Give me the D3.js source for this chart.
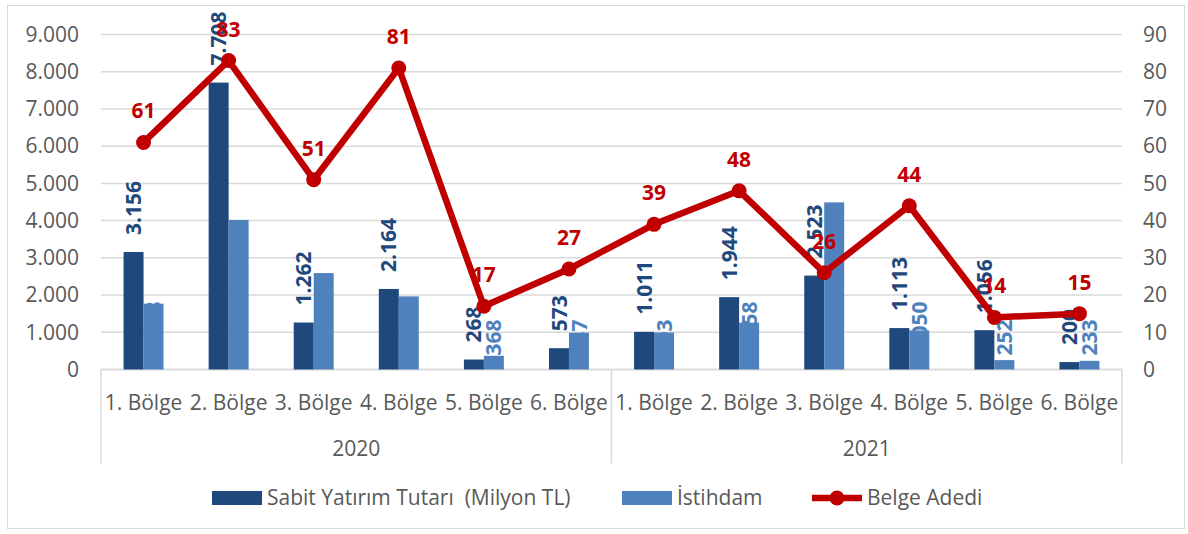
<!DOCTYPE html>
<html>
<head>
  <meta charset="utf-8">
  <title>Bölgelere göre teşvik belgeleri</title>
  <script src="https://d3js.org/d3.v7.min.js"></script>
  <style>
    body { margin: 0; background: #fff; }
    text { font-family: "Open Sans", sans-serif; white-space: pre; }
  </style>
</head>
<body>
  <div id="chart"></div>

  <script>
    const years = ["2020", "2021"];
    const regions = ["1. Bölge", "2. Bölge", "3. Bölge", "4. Bölge", "5. Bölge", "6. Bölge"];
    // Sabit Yatırım Tutarı (Milyon TL), 2020 then 2021
    const sabit = [3156, 7708, 1262, 2164, 268, 573, 1011, 1944, 2523, 1113, 1056, 200];
    const istihdam = [1768, 4018, 2590, 1964, 368, 987, 993, 1258, 4490, 1050, 252, 233];
    const belge = [61, 83, 51, 81, 17, 27, 39, 48, 26, 44, 14, 15];
    const leftTicks = [0, 1000, 2000, 3000, 4000, 5000, 6000, 7000, 8000, 9000];
    const rightTicks = [0, 10, 20, 30, 40, 50, 60, 70, 80, 90];
    const seriesNames = ["Sabit Yatırım Tutarı  (Milyon TL)", "İstihdam", "Belge Adedi"];

    const width = 1188;
    const height = 534;
    const margin = { top: 34.5, right: 66, bottom: 164.5, left: 101 };
    const darkBlue = "#1f497d";
    const lightBlue = "#4f81bd";
    const red = "#c00000";
    const grey = "#595959";
    const axisFont = "21px";

    const trFmt = d3.formatLocale({ decimal: ",", thousands: ".", grouping: [3], currency: ["", ""] }).format(",d");

    const rows = [];
    years.forEach((yr, i) => regions.forEach((r, j) => {
      const k = i * regions.length + j;
      rows.push({ key: yr + "|" + r, year: yr, region: r, sabit: sabit[k], istihdam: istihdam[k], belge: belge[k] });
    }));

    const svg = d3.select("#chart")
      .append("svg")
      .attr("width", width)
      .attr("height", height);

    svg.append("rect")
      .attr("x", 7.5).attr("y", 5.5)
      .attr("width", 1177).attr("height", 523)
      .attr("fill", "none")
      .attr("stroke", "#d9d9d9");

    const x = d3.scaleBand()
      .domain(rows.map(d => d.key))
      .range([margin.left, width - margin.right]);

    const xSub = d3.scaleBand()
      .domain(["sabit", "istihdam"])
      .range([0, x.bandwidth()])
      .paddingOuter(1.13);

    const yL = d3.scaleLinear()
      .domain([0, 9000])
      .range([height - margin.bottom, margin.top]);

    const yR = d3.scaleLinear()
      .domain([0, 90])
      .range([height - margin.bottom, margin.top]);

    // gridlines
    svg.append("g")
      .selectAll("line")
      .data(leftTicks)
      .join("line")
      .attr("x1", margin.left)
      .attr("x2", width - margin.right)
      .attr("y1", d => yL(d))
      .attr("y2", d => yL(d))
      .attr("stroke", "#d9d9d9")
      .attr("stroke-width", 1.5);

    // axes
    const leftAxis = svg.append("g")
      .attr("transform", `translate(${margin.left - 22}, 0)`)
      .call(d3.axisLeft(yL).tickValues(leftTicks).tickFormat(trFmt).tickSize(0).tickPadding(0));
    const rightAxis = svg.append("g")
      .attr("transform", `translate(${width - margin.right + 21}, 0)`)
      .call(d3.axisRight(yR).tickValues(rightTicks).tickSize(0).tickPadding(0));
    [leftAxis, rightAxis].forEach(g => {
      g.select(".domain").remove();
      g.selectAll("text")
        .attr("fill", grey)
        .style("font-size", axisFont)
        .style("font-family", "'Open Sans', sans-serif");
    });

    // category axis box
    const axisY = yL(0);
    const cat = svg.append("g");
    cat.append("line")
      .attr("x1", margin.left).attr("x2", width - margin.right)
      .attr("y1", axisY).attr("y2", axisY)
      .attr("stroke", "#d9d9d9").attr("stroke-width", 1.5);
    const seps = [rows[0].key, rows[regions.length].key];
    cat.selectAll("line.sep")
      .data(seps.map(k => x(k)).concat([width - margin.right]))
      .join("line")
      .attr("class", "sep")
      .attr("x1", d => d).attr("x2", d => d)
      .attr("y1", axisY).attr("y2", axisY + 94)
      .attr("stroke", "#d9d9d9").attr("stroke-width", 1.5);
    cat.selectAll("text.region")
      .data(rows)
      .join("text")
      .attr("class", "region")
      .attr("x", d => x(d.key) + x.bandwidth() / 2)
      .attr("y", axisY + 40)
      .attr("text-anchor", "middle")
      .attr("fill", grey)
      .style("font-size", axisFont)
      .text(d => d.region);
    cat.selectAll("text.year")
      .data(years)
      .join("text")
      .attr("class", "year")
      .attr("x", (d, i) => {
        const first = x(rows[i * regions.length].key);
        const last = x(rows[i * regions.length + regions.length - 1].key) + x.bandwidth();
        return (first + last) / 2;
      })
      .attr("y", axisY + 86)
      .attr("text-anchor", "middle")
      .attr("fill", grey)
      .style("font-size", axisFont)
      .text(d => d);

    // İstihdam labels sit behind the bars
    svg.append("g")
      .selectAll("text")
      .data(rows)
      .join("text")
      .attr("transform", d => `translate(${x(d.key) + xSub("istihdam") + xSub.bandwidth() / 2}, ${axisY - 14}) rotate(-90)`)
      .attr("dy", "0.36em")
      .attr("fill", lightBlue)
      .attr("font-weight", "bold")
      .style("font-size", "21px")
      .text(d => trFmt(d.istihdam));

    // bars
    const bars = svg.append("g");
    bars.selectAll("rect.sabit")
      .data(rows)
      .join("rect")
      .attr("class", "sabit")
      .attr("x", d => x(d.key) + xSub("sabit"))
      .attr("y", d => yL(d.sabit))
      .attr("width", xSub.bandwidth())
      .attr("height", d => yL(0) - yL(d.sabit))
      .attr("fill", darkBlue);
    bars.selectAll("rect.istihdam")
      .data(rows)
      .join("rect")
      .attr("class", "istihdam")
      .attr("x", d => x(d.key) + xSub("istihdam"))
      .attr("y", d => yL(d.istihdam))
      .attr("width", xSub.bandwidth())
      .attr("height", d => yL(0) - yL(d.istihdam))
      .attr("fill", lightBlue);

    // Sabit labels
    svg.append("g")
      .selectAll("text")
      .data(rows)
      .join("text")
      .attr("transform", d => `translate(${x(d.key) + xSub("sabit") + xSub.bandwidth() / 2}, ${yL(d.sabit) - 17}) rotate(-90)`)
      .attr("dy", "0.36em")
      .attr("fill", darkBlue)
      .attr("font-weight", "bold")
      .style("font-size", "21px")
      .text(d => trFmt(d.sabit));

    // Belge Adedi line
    const line = d3.line()
      .x(d => x(d.key) + x.bandwidth() / 2)
      .y(d => yR(d.belge));
    svg.append("path")
      .datum(rows)
      .attr("d", line)
      .attr("fill", "none")
      .attr("stroke", red)
      .attr("stroke-width", 6.5)
      .attr("stroke-linejoin", "round");
    svg.append("g")
      .selectAll("circle")
      .data(rows)
      .join("circle")
      .attr("cx", d => x(d.key) + x.bandwidth() / 2)
      .attr("cy", d => yR(d.belge))
      .attr("r", 7.5)
      .attr("fill", red);
    svg.append("g")
      .selectAll("text")
      .data(rows)
      .join("text")
      .attr("x", d => x(d.key) + x.bandwidth() / 2)
      .attr("y", d => yR(d.belge) - 24)
      .attr("text-anchor", "middle")
      .attr("fill", red)
      .attr("font-weight", "bold")
      .style("font-size", "21px")
      .text(d => d.belge);

    // legend
    const legend = svg.append("g").attr("transform", "translate(0, 498)");
    const items = [
      { name: seriesNames[0], x: 212, type: "bar", color: darkBlue },
      { name: seriesNames[1], x: 622, type: "bar", color: lightBlue },
      { name: seriesNames[2], x: 812, type: "line", color: red }
    ];
    items.forEach(it => {
      const g = legend.append("g").attr("transform", `translate(${it.x}, 0)`);
      if (it.type === "bar") {
        g.append("rect").attr("x", 0).attr("y", -7).attr("width", 50).attr("height", 14).attr("fill", it.color);
      } else {
        g.append("line").attr("x1", 0).attr("x2", 50).attr("y1", 0).attr("y2", 0)
          .attr("stroke", it.color).attr("stroke-width", 6.5);
        g.append("circle").attr("cx", 25).attr("cy", 0).attr("r", 7.5).attr("fill", it.color);
      }
      g.append("text")
        .attr("x", 55)
        .attr("y", 0)
        .attr("dy", "0.35em")
        .attr("fill", grey)
        .style("font-size", axisFont)
        .text(it.name);
    });
  </script>
</body>
</html>
